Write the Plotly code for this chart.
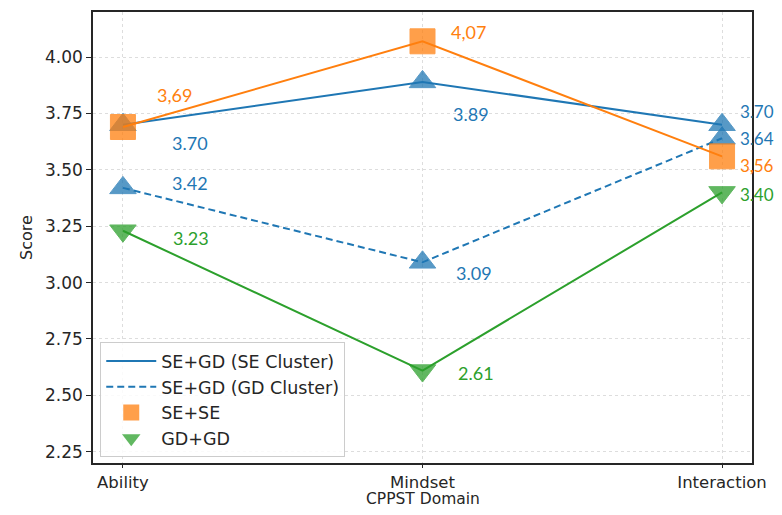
import plotly.graph_objects as go

domains = ["Ability", "Mindset", "Interaction"]
se_cluster = [3.70, 3.89, 3.70]
gd_cluster = [3.42, 3.09, 3.64]
se_se = [3.69, 4.07, 3.56]
gd_gd = [3.23, 2.61, 3.40]

se_se_labels = ["3,69", "4,07", "3,56"]
x_title = "CPPST Domain"
y_title = "Score"

BLUE = "#1f77b4"
ORANGE = "#ff7f0e"
GREEN = "#2ca02c"

fig = go.Figure()
x = list(range(len(domains)))

fig.add_trace(go.Scatter(x=x, y=se_cluster, mode="lines+markers", showlegend=False,
                         line=dict(color=BLUE, width=2),
                         marker=dict(symbol="triangle-up", size=23, color=BLUE, opacity=0.75,
                                     line=dict(color=BLUE, width=1))))
fig.add_trace(go.Scatter(x=x, y=gd_cluster, mode="lines+markers", showlegend=False,
                         line=dict(color=BLUE, width=2, dash="7px,4px"),
                         marker=dict(symbol="triangle-up", size=23, color=BLUE, opacity=0.75,
                                     line=dict(color=BLUE, width=1))))
fig.add_trace(go.Scatter(x=x, y=se_se, mode="lines+markers", showlegend=False,
                         line=dict(color=ORANGE, width=2),
                         marker=dict(symbol="square", size=25, color=ORANGE, opacity=0.75,
                                     line=dict(color=ORANGE, width=1))))
fig.add_trace(go.Scatter(x=x, y=gd_gd, mode="lines+markers", showlegend=False,
                         line=dict(color=GREEN, width=2),
                         marker=dict(symbol="triangle-down", size=23, color=GREEN, opacity=0.75,
                                     line=dict(color=GREEN, width=1))))

# legend-only entries
fig.add_trace(go.Scatter(x=[None], y=[None], mode="lines", name="SE+GD (SE Cluster)",
                         line=dict(color=BLUE, width=2)))
fig.add_trace(go.Scatter(x=[None], y=[None], mode="lines", name="SE+GD (GD Cluster)",
                         line=dict(color=BLUE, width=2, dash="7px,4px")))
fig.add_trace(go.Scatter(x=[None], y=[None], mode="markers", name="SE+SE",
                         marker=dict(symbol="square", size=22, color=ORANGE, opacity=0.75)))
fig.add_trace(go.Scatter(x=[None], y=[None], mode="markers", name="GD+GD",
                         marker=dict(symbol="triangle-down", size=22, color=GREEN, opacity=0.75)))

# data labels (offsets in px)
label_font = "Lato, Open Sans, sans-serif"
offsets = {
    "se": [(67, -18), (48, -32), (35, 13)],
    "gd": [(67, 5), (51, -11), (35, 0)],
    "ss": [(52, 32), (46, 9), (35, -9)],
    "gg": [(68, -7), (53, -2), (35, -2)],
}
series = [
    ("se", se_cluster, [f"{v:.2f}" for v in se_cluster], BLUE),
    ("gd", gd_cluster, [f"{v:.2f}" for v in gd_cluster], BLUE),
    ("ss", se_se, se_se_labels, ORANGE),
    ("gg", gd_gd, [f"{v:.2f}" for v in gd_gd], GREEN),
]
for key, vals, labs, col in series:
    for i, (v, t) in enumerate(zip(vals, labs)):
        dx, dy = offsets[key][i]
        fig.add_annotation(x=i, y=v, text=t, showarrow=False, xshift=dx, yshift=dy,
                           font=dict(family=label_font, size=18 if i < 2 else 17, color=col),
                           xanchor="center", yanchor="middle")

# x axis title as annotation to keep it inside the page
fig.add_annotation(x=0.5, y=0, xref="paper", yref="paper", text=x_title, showarrow=False,
                   xanchor="center", yanchor="bottom", yshift=-46, borderpad=0,
                   font=dict(family="DejaVu Sans", size=15.5, color="#262626"))

fig.update_layout(
    width=766, height=499,
    margin=dict(l=85, r=22, t=4, b=44),
    paper_bgcolor="white", plot_bgcolor="white",
    font=dict(family="DejaVu Sans", size=14, color="#262626"),
    showlegend=True,
    legend=dict(x=0.011, y=0.013, xanchor="left", yanchor="bottom",
                bgcolor="rgba(255,255,255,0.85)", bordercolor="#ccc", borderwidth=1,
                font=dict(family="DejaVu Sans", size=17.5, color="#262626"),
                itemsizing="trace", itemwidth=50, tracegroupgap=0),
    xaxis=dict(tickmode="array", tickvals=x, ticktext=domains, range=[-0.1, 2.1],
               showgrid=True, gridcolor="#ddd", griddash="dot", gridwidth=1,
               showline=True, linecolor="#262626", linewidth=1.5, mirror=True,
               ticks="outside", ticklen=3, tickcolor="#262626", zeroline=False,
               automargin=False, tickfont=dict(size=16.5)),
    yaxis=dict(range=[2.2, 4.2], tickvals=[2.25, 2.5, 2.75, 3.0, 3.25, 3.5, 3.75, 4.0],
               tickformat=".2f",
               showgrid=True, gridcolor="#ddd", griddash="dot", gridwidth=1,
               showline=True, linecolor="#262626", linewidth=1.5, mirror=True,
               ticks="outside", ticklen=5, tickcolor="#262626", zeroline=False,
               automargin=False,
               title=dict(text=y_title, font=dict(size=16), standoff=8),
               tickfont=dict(size=17)),
)

fig.write_html("out.html")
